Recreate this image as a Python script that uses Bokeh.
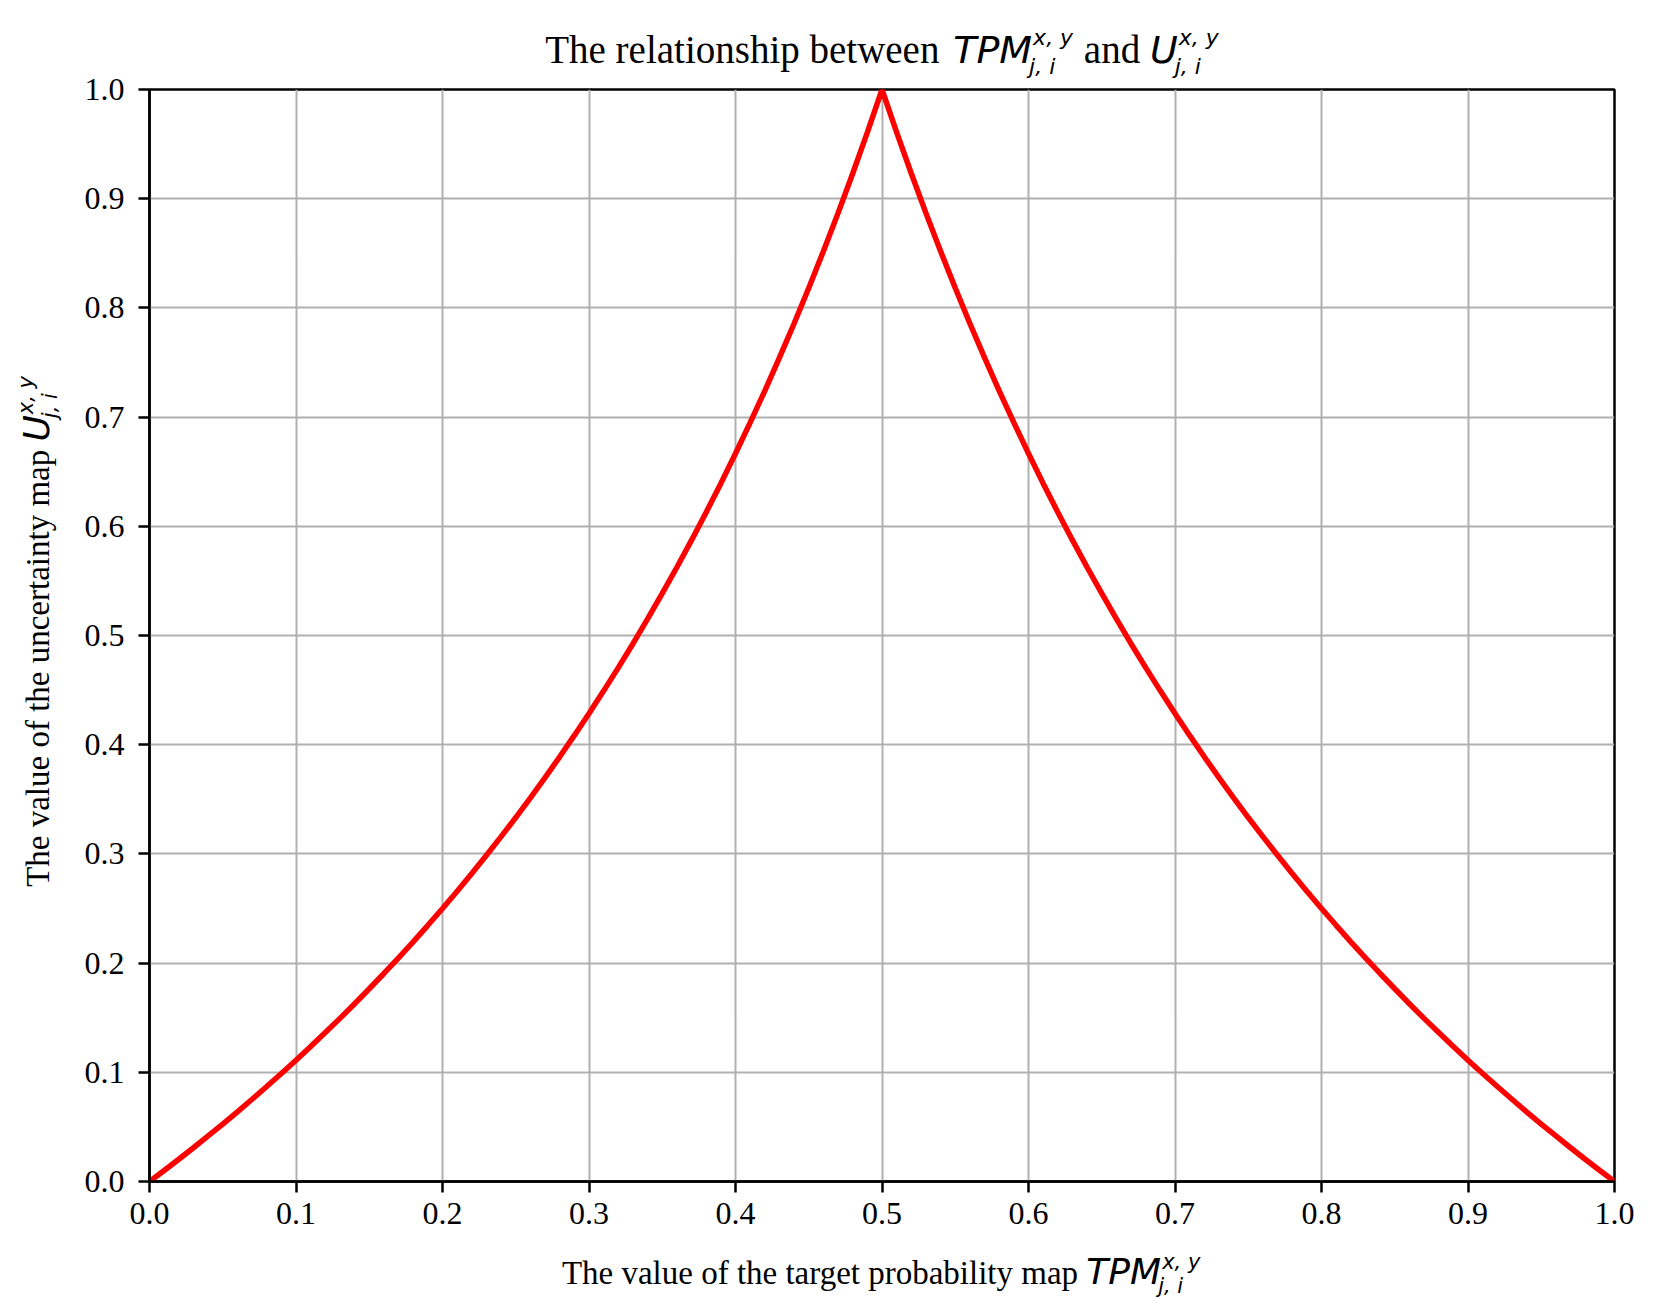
from bokeh.plotting import figure
from bokeh.models import Range1d, FixedTicker, PrintfTickFormatter, Div
from bokeh.layouts import column, row
from bokeh.embed import file_html
from bokeh.resources import INLINE

# ---- data ----
p_values = [0.00, 0.01, 0.02, 0.03, 0.04, 0.05, 0.06, 0.07, 0.08, 0.09,
            0.10, 0.11, 0.12, 0.13, 0.14, 0.15, 0.16, 0.17, 0.18, 0.19,
            0.20, 0.21, 0.22, 0.23, 0.24, 0.25, 0.26, 0.27, 0.28, 0.29,
            0.30, 0.31, 0.32, 0.33, 0.34, 0.35, 0.36, 0.37, 0.38, 0.39,
            0.40, 0.41, 0.42, 0.43, 0.44, 0.45, 0.46, 0.47, 0.48, 0.49,
            0.50, 0.51, 0.52, 0.53, 0.54, 0.55, 0.56, 0.57, 0.58, 0.59,
            0.60, 0.61, 0.62, 0.63, 0.64, 0.65, 0.66, 0.67, 0.68, 0.69,
            0.70, 0.71, 0.72, 0.73, 0.74, 0.75, 0.76, 0.77, 0.78, 0.79,
            0.80, 0.81, 0.82, 0.83, 0.84, 0.85, 0.86, 0.87, 0.88, 0.89,
            0.90, 0.91, 0.92, 0.93, 0.94, 0.95, 0.96, 0.97, 0.98, 0.99, 1.00]
u_values = [0.0000, 0.0101, 0.0204, 0.0309, 0.0417, 0.0526, 0.0638, 0.0753, 0.0870, 0.0989,
            0.1111, 0.1236, 0.1364, 0.1494, 0.1628, 0.1765, 0.1905, 0.2048, 0.2195, 0.2346,
            0.2500, 0.2658, 0.2821, 0.2987, 0.3158, 0.3333, 0.3514, 0.3699, 0.3889, 0.4085,
            0.4286, 0.4493, 0.4706, 0.4925, 0.5152, 0.5385, 0.5625, 0.5873, 0.6129, 0.6393,
            0.6667, 0.6949, 0.7241, 0.7544, 0.7857, 0.8182, 0.8519, 0.8868, 0.9231, 0.9608,
            1.0000, 0.9608, 0.9231, 0.8868, 0.8519, 0.8182, 0.7857, 0.7544, 0.7241, 0.6949,
            0.6667, 0.6393, 0.6129, 0.5873, 0.5625, 0.5385, 0.5152, 0.4925, 0.4706, 0.4493,
            0.4286, 0.4085, 0.3889, 0.3699, 0.3514, 0.3333, 0.3158, 0.2987, 0.2821, 0.2658,
            0.2500, 0.2346, 0.2195, 0.2048, 0.1905, 0.1765, 0.1628, 0.1494, 0.1364, 0.1236,
            0.1111, 0.0989, 0.0870, 0.0753, 0.0638, 0.0526, 0.0417, 0.0309, 0.0204, 0.0101, 0.0000]
x_ticks = [0.0, 0.1, 0.2, 0.3, 0.4, 0.5, 0.6, 0.7, 0.8, 0.9, 1.0]
y_ticks = [0.0, 0.1, 0.2, 0.3, 0.4, 0.5, 0.6, 0.7, 0.8, 0.9, 1.0]

title_text = "The relationship between"
title_mid = "and"
xlabel_text = "The value of the target probability map"
ylabel_text = "The value of the uncertainty map"
math_tpm = "TPM"
math_u = "U"
math_sup = "x, y"
math_sub = "j, i"

# ---- layout (page pixels) ----
FL, FT, FW, FH = 149, 89, 1465, 1092
TITLE_H = 64
YL_W = 70
RIGHT = 40
BOTTOM = 66
XL_H = 54
TOTAL_W = FL + FW + RIGHT
SERIF = "'Liberation Serif', 'Times New Roman', serif"
MATH = "'DejaVu Sans', sans-serif"
VISIBLE = {"overflow": "visible"}

p = figure(frame_width=FW, frame_height=FH,
           min_border_left=FL - YL_W, min_border_top=FT - TITLE_H,
           min_border_right=RIGHT, min_border_bottom=BOTTOM,
           x_range=Range1d(0, 1), y_range=Range1d(0, 1),
           output_backend="svg", toolbar_location=None, title=None)
p.margin = 0
p.background_fill_color = "white"
p.border_fill_color = None
p.outline_line_color = "black"
p.outline_line_width = 2.5

for ax, ticks, standoff in ((p.xaxis, x_ticks, 10), (p.yaxis, y_ticks, 14)):
    ax.ticker = FixedTicker(ticks=ticks)
    ax.formatter = PrintfTickFormatter(format="%.1f")
    ax.major_label_text_font = "Liberation Serif"
    ax.major_label_text_font_size = "32px"
    ax.major_label_text_color = "black"
    ax.axis_line_color = "black"
    ax.axis_line_width = 2.5
    ax.major_tick_line_color = "black"
    ax.major_tick_line_width = 2.5
    ax.major_tick_out = 11
    ax.major_tick_in = 0
    ax.minor_tick_line_color = None
    ax.major_label_standoff = standoff

for g in (p.xgrid, p.ygrid):
    g.grid_line_color = "#b0b0b0"
    g.grid_line_width = 2

p.line(p_values, u_values, line_color="red", line_width=5.5)


def math_html(base, size, ss_size, ss_w, raise_px, lower_px):
    sup_bottom = raise_px - 0.154 * ss_size
    sub_top = lower_px - 0.846 * ss_size
    return (
        f'<span style="font-family:{MATH};font-style:italic;font-size:{size}px;">{base}</span>'
        f'<span style="position:relative;display:inline-block;width:{ss_w}px;height:0;'
        f'font-family:{MATH};font-style:italic;font-size:{ss_size}px;line-height:1;">'
        f'<span style="position:absolute;left:1px;bottom:{sup_bottom:.1f}px;white-space:nowrap;">{math_sup}</span>'
        f'<span style="position:absolute;left:-3px;top:{sub_top:.1f}px;white-space:nowrap;">{math_sub}</span>'
        f'</span>'
    )


def serif_html(text, size):
    return f'<span style="font-family:{SERIF};font-size:{size}px;">{text}</span>'


def block(inner, size, style):
    return (f'<div style="position:absolute;{style}white-space:nowrap;'
            f'font-size:{size}px;line-height:{size}px;color:black;">{inner}</div>')


BASE_K = 0.8375  # baseline offset within a line box of line-height = font size

# title
t_size, t_math, t_ss = 39, 38, 22
t_base = 63
title_inner = (serif_html(title_text + " ", t_size)
               + '<span style="display:inline-block;width:4px;"></span>'
               + math_html(math_tpm, t_math, t_ss, 42, 18, 11)
               + serif_html(" " + title_mid + " ", t_size)
               + math_html(math_u, t_math, t_ss, 40, 18, 11))
title_div = Div(width=TOTAL_W, height=TITLE_H, margin=0, styles=VISIBLE, text=(
    f'<div style="position:relative;width:{TOTAL_W}px;height:{TITLE_H}px;overflow:visible;">'
    + block(title_inner, t_size,
            f'left:{FL}px;width:{FW}px;top:{t_base - BASE_K * t_size:.1f}px;text-align:center;')
    + '</div>'))

# x label
l_size, l_math, l_ss = 33, 36, 21
x_div_top = FT + FH + BOTTOM
x_base = 1283 - x_div_top
xl_inner = (serif_html(xlabel_text + " ", l_size)
            + math_html(math_tpm, l_math, l_ss, 40, 15, 9))
xlabel_div = Div(width=TOTAL_W, height=XL_H, margin=0, styles=VISIBLE, text=(
    f'<div style="position:relative;width:{TOTAL_W}px;height:{XL_H}px;">'
    + block(xl_inner, l_size,
            f'left:{FL}px;width:{FW}px;top:{x_base - BASE_K * l_size:.1f}px;text-align:center;')
    + '</div>'))

# y label (rotated, reads bottom to top)
YL_H = FT - TITLE_H + FH + BOTTOM
yc = FT + FH / 2 - 4 - TITLE_H
y_baseline_x = 47
xc = y_baseline_x - (BASE_K * l_size - l_size / 2)
yl_inner = (serif_html(ylabel_text + " ", l_size)
            + math_html(math_u, l_math, l_ss, 40, 15, 9))
ylabel_div = Div(width=YL_W, height=YL_H, margin=0, styles=VISIBLE, text=(
    f'<div style="position:relative;width:{YL_W}px;height:{YL_H}px;">'
    + block(yl_inner, l_size,
            f'left:{xc:.1f}px;top:{yc:.1f}px;height:{l_size}px;'
            f'transform:translate(-50%,-50%) rotate(-90deg);')
    + '</div>'))

layout = column(title_div, row(ylabel_div, p, spacing=0, margin=0),
                xlabel_div, spacing=0, margin=0)
open("out.html", "w").write(file_html(layout, INLINE))
